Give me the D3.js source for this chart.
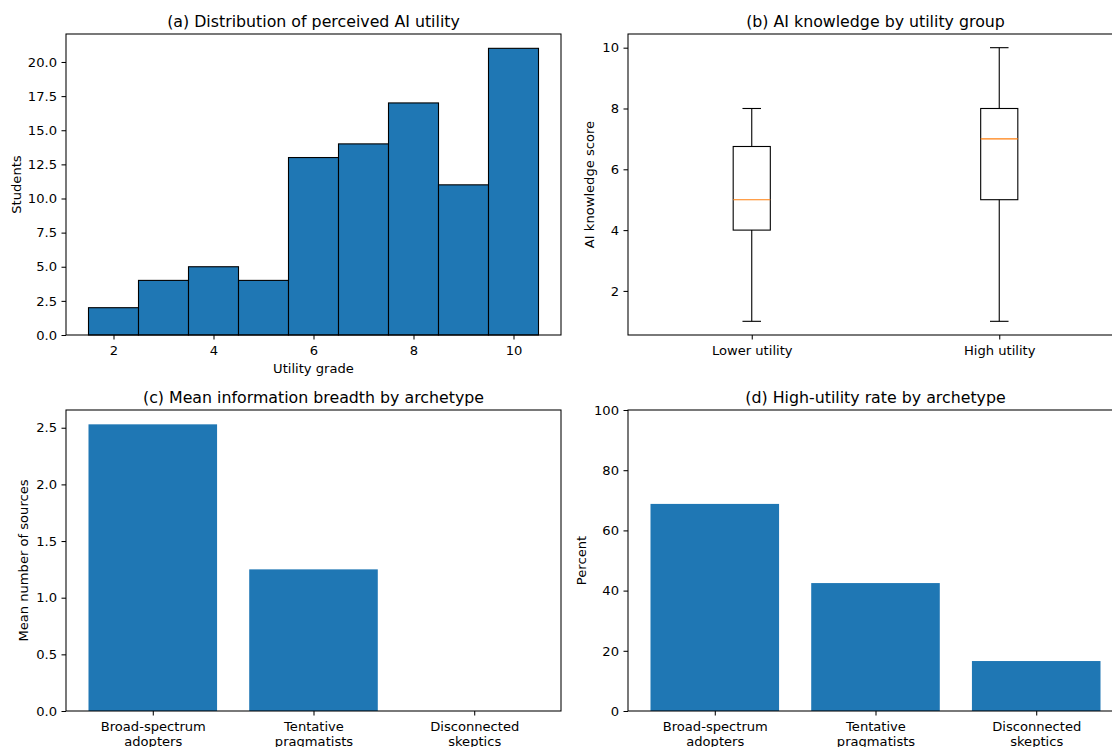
<!DOCTYPE html>
<html>
<head>
<meta charset="utf-8">
<script src="https://cdn.jsdelivr.net/npm/d3@7"></script>
<style>
  html, body { margin: 0; padding: 0; background: #fff; }
  svg { display: block; font-family: "DejaVu Sans", sans-serif; }
  text { fill: #000; }
</style>
</head>
<body>
<svg id="chart" width="1112" height="747"></svg>
<script>
// ---------- data ----------
const utilityGrades = [2, 3, 4, 5, 6, 7, 8, 9, 10];
const studentCounts = [2, 4, 5, 4, 13, 14, 17, 11, 21];
const histXTicks = [2, 4, 6, 8, 10];
const histYTicks = [0, 2.5, 5, 7.5, 10, 12.5, 15, 17.5, 20];

const boxGroups = ["Lower utility", "High utility"];
const whiskerLow = [1, 1];
const boxQ1 = [4, 5];
const boxMedian = [5, 7];
const boxQ3 = [6.75, 8];
const whiskerHigh = [8, 10];
const boxYTicks = [2, 4, 6, 8, 10];

const archetypes = [["Broad-spectrum", "adopters"], ["Tentative", "pragmatists"], ["Disconnected", "skeptics"]];
const meanSources = [2.53, 1.25, 0];
const meanYTicks = [0, 0.5, 1.0, 1.5, 2.0, 2.5];
const highUtilityPct = [68.8, 42.5, 16.6];
const pctYTicks = [0, 20, 40, 60, 80, 100];

// ---------- layout ----------
const BLUE = "#1f77b4", ORANGE = "#ff7f0e";
const TICK_FS = 13.1, TITLE_FS = 15.8;
const panels = {
  a: {x: 66, y: 34, w: 495, h: 301},
  b: {x: 628, y: 34, w: 495, h: 301},
  c: {x: 66, y: 410, w: 495, h: 301},
  d: {x: 628, y: 410, w: 495, h: 301}
};
const svg = d3.select("#chart");

function frame(p, title) {
  const g = svg.append("g").attr("transform", `translate(${p.x},${p.y})`);
  g.append("text").attr("x", p.w / 2).attr("y", -7.5)
    .attr("text-anchor", "middle").attr("font-size", TITLE_FS).text(title);
  return g;
}
function spines(g, p) {
  g.append("rect").attr("x", 0).attr("y", 0).attr("width", p.w).attr("height", p.h)
    .attr("fill", "none").attr("stroke", "#000").attr("stroke-width", 1.05);
}
function yAxis(g, y, ticks, fmt) {
  const ax = g.append("g").call(d3.axisLeft(y).tickValues(ticks).tickFormat(fmt)
    .tickSize(4.5).tickPadding(4.5).tickSizeOuter(0));
  ax.select(".domain").remove();
  ax.selectAll("line").attr("stroke", "#000").attr("stroke-width", 1.05);
  ax.selectAll("text").attr("font-size", TICK_FS).attr("font-family", "DejaVu Sans").attr("fill", "#000");
}
function xAxis(g, p, x, ticks, fmt) {
  const ax = g.append("g").attr("transform", `translate(0,${p.h})`)
    .call(d3.axisBottom(x).tickValues(ticks).tickFormat(fmt)
    .tickSize(4.5).tickPadding(4.5).tickSizeOuter(0));
  ax.select(".domain").remove();
  ax.selectAll("line").attr("stroke", "#000").attr("stroke-width", 1.05);
  ax.selectAll("text").attr("font-size", TICK_FS).attr("font-family", "DejaVu Sans").attr("fill", "#000")
    .attr("y", 20).attr("dy", 0);
  return ax;
}
function yLabel(g, p, dx, label) {
  g.append("text").attr("transform", `translate(${dx},${p.h / 2}) rotate(-90)`)
    .attr("text-anchor", "middle").attr("font-size", TICK_FS).text(label);
}
function xLabel(g, p, label) {
  g.append("text").attr("x", p.w / 2).attr("y", p.h + 38)
    .attr("text-anchor", "middle").attr("font-size", TICK_FS).text(label);
}

// ---------- (a) histogram ----------
{
  const p = panels.a;
  const g = frame(p, "(a) Distribution of perceived AI utility");
  const x = d3.scaleLinear().domain([1.05, 10.95]).range([0, p.w]);
  const y = d3.scaleLinear().domain([0, 22.05]).range([p.h, 0]);
  g.selectAll("rect.bar").data(utilityGrades).join("rect").attr("class", "bar")
    .attr("x", d => x(d - 0.5)).attr("width", d => x(d + 0.5) - x(d - 0.5))
    .attr("y", (d, i) => y(studentCounts[i])).attr("height", (d, i) => y(0) - y(studentCounts[i]))
    .attr("fill", BLUE).attr("stroke", "#000").attr("stroke-width", 1.1);
  spines(g, p);
  yAxis(g, y, histYTicks, d3.format(".1f"));
  xAxis(g, p, x, histXTicks, d3.format("d"));
  yLabel(g, p, -45, "Students");
  xLabel(g, p, "Utility grade");
}

// ---------- (b) boxplot ----------
{
  const p = panels.b;
  const g = frame(p, "(b) AI knowledge by utility group");
  const x = d3.scaleLinear().domain([0.5, 2.5]).range([0, p.w]);
  const y = d3.scaleLinear().domain([0.55, 10.45]).range([p.h, 0]);
  const bw = 0.15, cw = 0.075;
  boxGroups.forEach((name, i) => {
    const c = i + 1;
    const line = (x1, y1, x2, y2, col) => g.append("line")
      .attr("x1", x1).attr("y1", y1).attr("x2", x2).attr("y2", y2)
      .attr("stroke", col || "#000").attr("stroke-width", 1.1);
    line(x(c), y(whiskerLow[i]), x(c), y(boxQ1[i]));
    line(x(c), y(boxQ3[i]), x(c), y(whiskerHigh[i]));
    line(x(c - cw / 2), y(whiskerLow[i]), x(c + cw / 2), y(whiskerLow[i]));
    line(x(c - cw / 2), y(whiskerHigh[i]), x(c + cw / 2), y(whiskerHigh[i]));
    g.append("rect").attr("x", x(c - bw / 2)).attr("width", x(c + bw / 2) - x(c - bw / 2))
      .attr("y", y(boxQ3[i])).attr("height", y(boxQ1[i]) - y(boxQ3[i]))
      .attr("fill", "none").attr("stroke", "#000").attr("stroke-width", 1.1);
    line(x(c - bw / 2), y(boxMedian[i]), x(c + bw / 2), y(boxMedian[i]), ORANGE);
  });
  spines(g, p);
  yAxis(g, y, boxYTicks, d3.format("d"));
  xAxis(g, p, x, [1, 2], (d, i) => boxGroups[i]);
  yLabel(g, p, -34, "AI knowledge score");
}

// ---------- (c), (d) bar charts ----------
function barPanel(p, title, values, yDomain, ticks, fmt, labelDx, label) {
  const g = frame(p, title);
  const x = d3.scaleLinear().domain([-0.54, 2.54]).range([0, p.w]);
  const y = d3.scaleLinear().domain(yDomain).range([p.h, 0]);
  g.selectAll("rect.bar").data(values).join("rect").attr("class", "bar")
    .attr("x", (d, i) => x(i - 0.4)).attr("width", (d, i) => x(i + 0.4) - x(i - 0.4))
    .attr("y", d => y(d)).attr("height", d => y(0) - y(d)).attr("fill", BLUE);
  spines(g, p);
  yAxis(g, y, ticks, fmt);
  const ax = xAxis(g, p, x, [0, 1, 2], () => "");
  ax.selectAll(".tick text").each(function (d) {
    const t = d3.select(this);
    archetypes[d].forEach((ln, k) => {
      t.append("tspan").attr("x", 0).attr("dy", k === 0 ? 0 : "1.15em").text(ln);
    });
  });
  yLabel(g, p, labelDx, label);
}
barPanel(panels.c, "(c) Mean information breadth by archetype", meanSources, [0, 2.6565],
  meanYTicks, d3.format(".1f"), -38, "Mean number of sources");
barPanel(panels.d, "(d) High-utility rate by archetype", highUtilityPct, [0, 100],
  pctYTicks, d3.format("d"), -42, "Percent");
</script>
</body>
</html>
